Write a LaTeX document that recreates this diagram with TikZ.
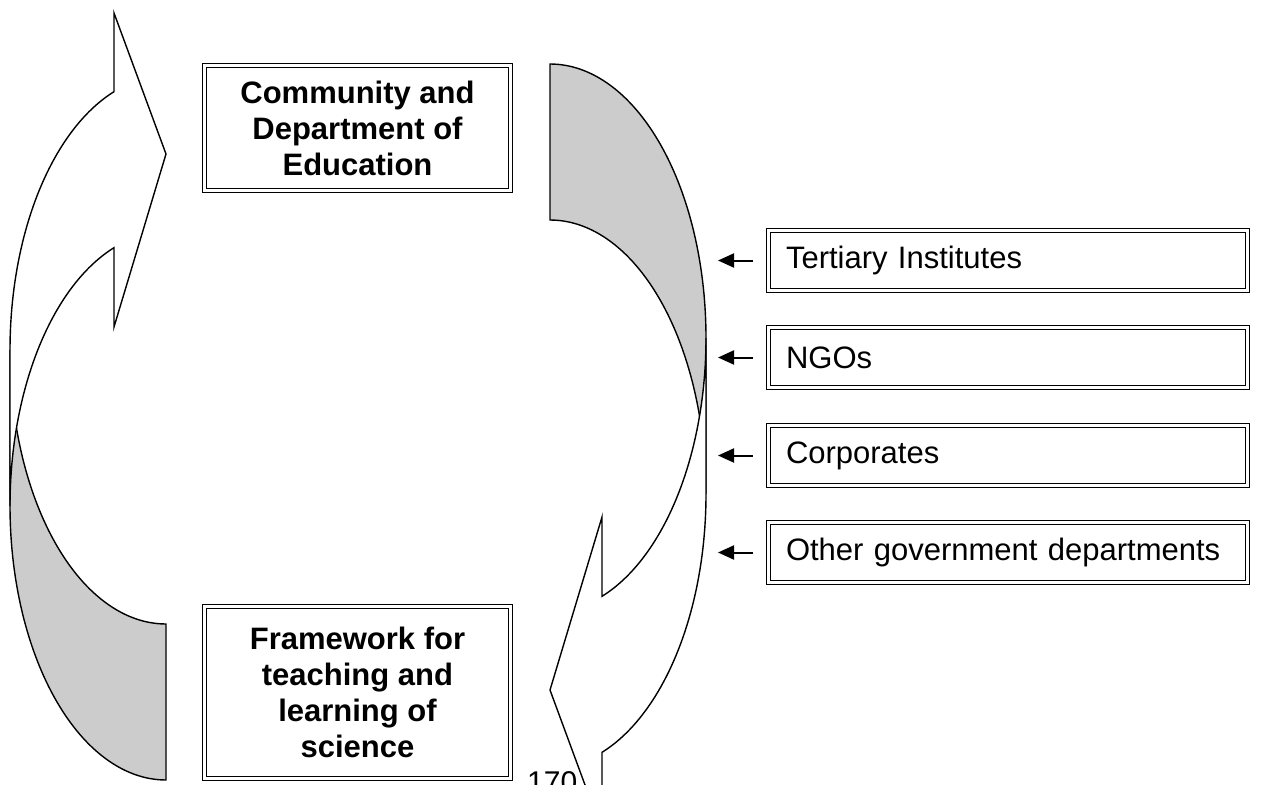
\documentclass[tikz,border=0pt]{standalone}
\usepackage{fontspec}
\setmainfont{Liberation Sans}
\usetikzlibrary{arrows.meta}
\definecolor{tailgray}{RGB}{204,204,204}
\begin{document}
\begin{tikzpicture}[x=1pt,y=-1pt,
  shapeline/.style={draw=black,line width=1.4pt,line join=miter},
  dbox/.style={draw=black,double,double distance=2.2pt,line width=1.5pt,fill=white},
  boldtxt/.style={font=\bfseries\fontsize{31}{36}\selectfont,align=center,inner sep=0pt},
  plaintxt/.style={font=\fontsize{31}{36}\selectfont,align=left,text width=444pt,inner xsep=17.5pt,inner ysep=0pt,minimum height=60pt},
  feed/.style={-{Triangle[length=16pt,width=14pt]},line width=2pt,shorten <=15pt}
]
\useasboundingbox (0,0) rectangle (1265,784);
\clip (0,0) rectangle (1265,784);

% left curved arrow: tail (grey) then body (white)
\path[shapeline,fill=tailgray]
  plot[domain=180:90,samples=60] ({166+156*cos(\x)},{506+274*sin(\x)})
  -- plot[domain=90:180,samples=60] ({166+156*cos(\x)},{350+274*sin(\x)}) -- cycle;
\path[shapeline,fill=white]
  plot[domain=180:250.53,samples=50] ({166+156*cos(\x)},{506+274*sin(\x)})
  -- (114,327) -- (166,154) -- (114,13)
  -- plot[domain=250.53:180,samples=50] ({166+156*cos(\x)},{350+274*sin(\x)}) -- cycle;

% right curved arrow
\path[shapeline,fill=tailgray]
  plot[domain=-90:0,samples=60] ({550+156*cos(\x)},{338+274*sin(\x)})
  -- plot[domain=0:-90,samples=60] ({550+156*cos(\x)},{494+274*sin(\x)}) -- cycle;
\path[shapeline,fill=white]
  plot[domain=0:70.53,samples=50] ({550+156*cos(\x)},{338+274*sin(\x)})
  -- (602,517) -- (550,690) -- (602,831)
  -- plot[domain=70.53:0,samples=50] ({550+156*cos(\x)},{494+274*sin(\x)}) -- cycle;

% central boxes
\node[dbox,boldtxt,minimum width=306pt,minimum height=125pt] (cde) at (357.5,128)
  {Community and\\Department of\\Education};
\node[dbox,boldtxt,minimum width=306pt,minimum height=172pt] (fw) at (357.5,692.5)
  {Framework for\\teaching and\\learning of\\science};

% contributor boxes
\node[dbox,plaintxt] (ti) at (1008,260.5) {Tertiary Institutes};
\node[dbox,plaintxt] (ngo) at (1008,357.5) {NGOs};
\node[dbox,plaintxt] (corp) at (1008,455.5) {Corporates};
\node[dbox,plaintxt] (ogd) at (1008,552.5) {Other government departments};

\coordinate (tiA) at (718,260.5);
\coordinate (ngoA) at (718,357.5);
\coordinate (corpA) at (718,455.5);
\coordinate (ogdA) at (718,552.5);
\draw[feed] (ti.west) -- (tiA);
\draw[feed] (ngo.west) -- (ngoA);
\draw[feed] (corp.west) -- (corpA);
\draw[feed] (ogd.west) -- (ogdA);

\node[font=\fontsize{30}{36}\selectfont,anchor=north west,inner sep=0pt] (pg) at (527,771) {170};
\end{tikzpicture}
\end{document}
